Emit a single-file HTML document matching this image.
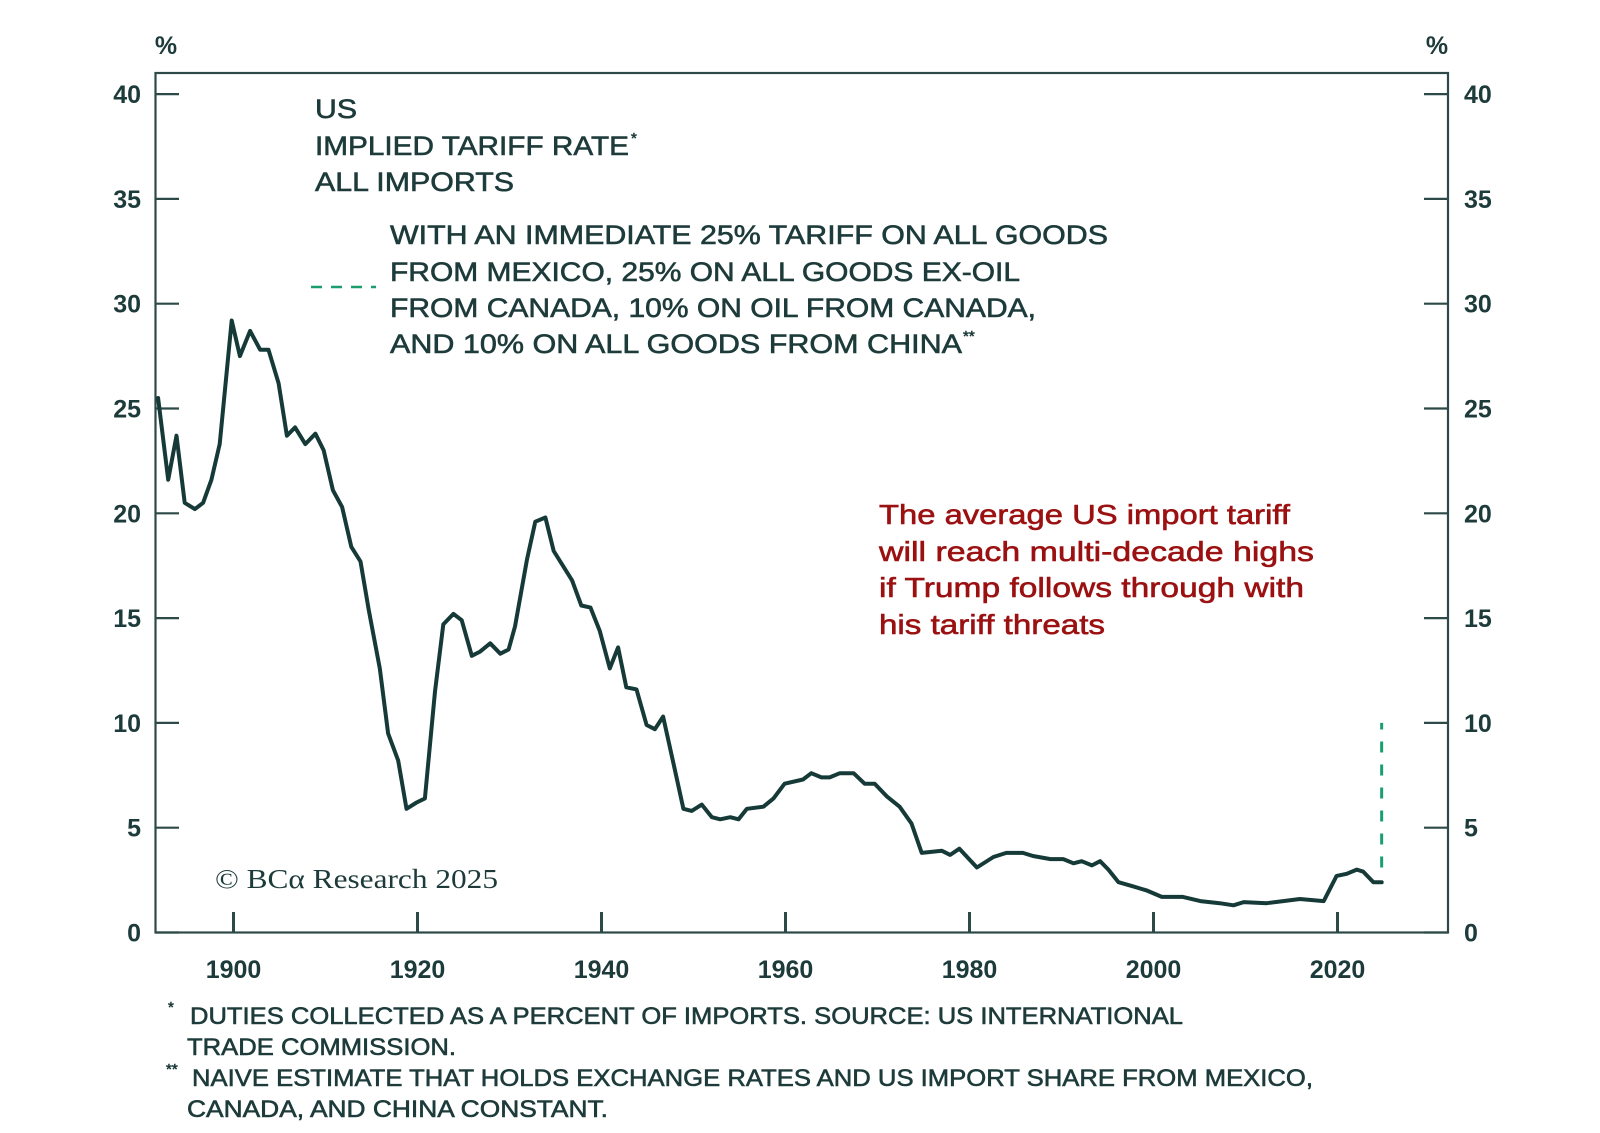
<!DOCTYPE html>
<html><head><meta charset="utf-8"><style>
html,body{margin:0;padding:0;background:#fff;}
svg{display:block;}
text{font-family:"Liberation Sans",sans-serif;fill:#1d3b3a;}
.med{stroke:#1d3b3a;stroke-width:0.6;}
.medr{stroke:#9b1111;stroke-width:0.6;}
</style></head><body>
<svg id="chart" width="1600" height="1133" viewBox="0 0 1600 1133" xmlns="http://www.w3.org/2000/svg">
<rect x="0" y="0" width="1600" height="1133" fill="#fff"/>
<rect x="155.5" y="73" width="1292.5" height="859.5" fill="none" stroke="#2d4a48" stroke-width="2.2"/>
<g id="yticks"></g>
<g id="xticks"></g>
<text x="166" y="54" font-size="25" font-weight="bold" text-anchor="middle">%</text>
<text x="1437" y="54" font-size="25" font-weight="bold" text-anchor="middle">%</text>

<g class="med">
<text x="315" y="118" font-size="27" textLength="42" lengthAdjust="spacingAndGlyphs">US</text>
<text x="315" y="155" font-size="27" textLength="314" lengthAdjust="spacingAndGlyphs">IMPLIED TARIFF RATE</text>
<text x="631" y="143" font-size="15">*</text>
<text x="315" y="191" font-size="27" textLength="199" lengthAdjust="spacingAndGlyphs">ALL IMPORTS</text>
</g>
<g>
<line x1="311" y1="287" x2="376" y2="287" stroke="#1a9e6e" stroke-width="2.5" stroke-dasharray="11,9"/>
<g class="med">
<text x="390" y="244" font-size="27" textLength="718" lengthAdjust="spacingAndGlyphs">WITH AN IMMEDIATE 25% TARIFF ON ALL GOODS</text>
<text x="390" y="281" font-size="27" textLength="630" lengthAdjust="spacingAndGlyphs">FROM MEXICO, 25% ON ALL GOODS EX-OIL</text>
<text x="390" y="317" font-size="27" textLength="646" lengthAdjust="spacingAndGlyphs">FROM CANADA, 10% ON OIL FROM CANADA,</text>
<text x="390" y="353" font-size="27" textLength="572" lengthAdjust="spacingAndGlyphs">AND 10% ON ALL GOODS FROM CHINA</text>
<text x="963" y="341" font-size="15">**</text>
</g>
</g>
<g class="medr">
<text x="879" y="524" font-size="28" style="fill:#9b1111" textLength="411" lengthAdjust="spacingAndGlyphs">The average US import tariff</text>
<text x="879" y="561" font-size="28" style="fill:#9b1111" textLength="435" lengthAdjust="spacingAndGlyphs">will reach multi-decade highs</text>
<text x="879" y="597" font-size="28" style="fill:#9b1111" textLength="425" lengthAdjust="spacingAndGlyphs">if Trump follows through with</text>
<text x="879" y="634" font-size="28" style="fill:#9b1111" textLength="226" lengthAdjust="spacingAndGlyphs">his tariff threats</text>
</g>
<text x="215" y="888" font-size="27" style="font-family:'Liberation Serif',serif" textLength="283" lengthAdjust="spacingAndGlyphs">© BCα Research 2025</text>

<g class="med">
<text x="168" y="1012" font-size="15">*</text>
<text x="190" y="1024" font-size="24" textLength="993" lengthAdjust="spacingAndGlyphs">DUTIES COLLECTED AS A PERCENT OF IMPORTS. SOURCE: US INTERNATIONAL</text>
<text x="187" y="1055" font-size="24" textLength="269" lengthAdjust="spacingAndGlyphs">TRADE COMMISSION.</text>
<text x="166" y="1074" font-size="15">**</text>
<text x="192" y="1086" font-size="24" textLength="1121" lengthAdjust="spacingAndGlyphs">NAIVE ESTIMATE THAT HOLDS EXCHANGE RATES AND US IMPORT SHARE FROM MEXICO,</text>
<text x="187" y="1117" font-size="24" textLength="421" lengthAdjust="spacingAndGlyphs">CANADA, AND CHINA CONSTANT.</text>
</g>
<g id="series"></g>
</svg>
<script>
const years = [1891.8,1892.9,1893.8,1894.7,1895.8,1896.7,1897.6,1898.5,1899.8,1900.7,1901.8,1902.9,1903.8,1904.9,1905.8,1906.7,1907.8,1908.9,1909.8,1910.8,1911.8,1912.8,1913.8,1914.7,1915.9,1916.8,1917.9,1918.8,1919.9,1920.8,1921.9,1922.8,1923.9,1924.8,1925.9,1926.8,1927.9,1929.0,1929.9,1930.6,1931.9,1932.8,1933.9,1934.8,1936.8,1937.8,1938.8,1939.8,1940.9,1941.8,1942.7,1943.8,1944.9,1945.8,1946.7,1947.8,1948.9,1949.8,1950.9,1952.0,1952.9,1954.0,1954.9,1955.8,1957.6,1958.7,1959.9,1961.9,1962.8,1963.9,1964.8,1965.9,1967.4,1968.6,1969.7,1971.0,1972.4,1973.7,1974.8,1977.0,1977.9,1978.9,1980.8,1982.6,1984.0,1985.8,1986.9,1988.8,1990.2,1991.3,1992.2,1993.3,1994.2,1995.1,1996.2,1997.8,1999.3,2000.9,2003.2,2005.1,2007.2,2008.7,2009.8,2012.3,2014.1,2015.9,2018.5,2019.9,2021.0,2022.1,2022.8,2023.9,2024.8];
const tariffRate = [25.5,21.6,23.7,20.5,20.2,20.5,21.6,23.3,29.2,27.5,28.7,27.8,27.8,26.2,23.7,24.1,23.3,23.8,23.0,21.1,20.3,18.4,17.7,15.4,12.6,9.5,8.2,5.9,6.2,6.4,11.5,14.7,15.2,14.9,13.2,13.4,13.8,13.3,13.5,14.6,17.8,19.6,19.8,18.2,16.8,15.6,15.5,14.4,12.6,13.6,11.7,11.6,9.9,9.7,10.3,8.1,5.9,5.8,6.1,5.5,5.4,5.5,5.4,5.9,6.0,6.4,7.1,7.3,7.6,7.4,7.4,7.6,7.6,7.1,7.1,6.5,6.0,5.2,3.8,3.9,3.7,4.0,3.1,3.6,3.8,3.8,3.65,3.5,3.5,3.3,3.4,3.2,3.4,3.0,2.4,2.2,2.0,1.7,1.7,1.5,1.4,1.3,1.45,1.4,1.5,1.6,1.5,2.7,2.8,3.0,2.9,2.4,2.4];
const scenarioYear = [2024.8];
const scenarioFrom = [3.1];
const scenarioTo = [10.0];
const yTickValues = [0,5,10,15,20,25,30,35,40];
const xTickValues = [1900,1920,1940,1960,1980,2000,2020];

const NS = "http://www.w3.org/2000/svg";
function xs(yr){ return 233.5 + (yr - 1900) * 9.2; }
function ys(v){ return 932.5 - v * 20.96; }
function mk(tag, attrs, parent){ const e = document.createElementNS(NS, tag); for (const k in attrs) e.setAttribute(k, attrs[k]); parent.appendChild(e); return e; }

const yg = document.getElementById('yticks');
yTickValues.forEach(v => {
  const y = ys(v);
  const t1 = mk('line', {x1:155.5, y1:y, x2:179, y2:y, stroke:'#2d4a48', 'stroke-width':2.2}, yg);
  
  
  const t2 = mk('line', {x1:1424, y1:y, x2:1448, y2:y, stroke:'#2d4a48', 'stroke-width':2.2}, yg);
  
  
  const l1 = mk('text', {x:141, y:y+9, 'font-size':25, 'font-weight':'bold', 'text-anchor':'end'}, yg);
  l1.textContent = String(v);
  
  
  const l2 = mk('text', {x:1464, y:y+9, 'font-size':25, 'font-weight':'bold', 'text-anchor':'start'}, yg);
  l2.textContent = String(v);
  
  
});

const xg = document.getElementById('xticks');
xTickValues.forEach(yr => {
  const x = xs(yr);
  const t = mk('line', {x1:x, y1:912, x2:x, y2:932.5, stroke:'#2d4a48', 'stroke-width':3}, xg);
  
  
  const l = mk('text', {x:x, y:978, 'font-size':25, 'font-weight':'bold', 'text-anchor':'middle'}, xg);
  l.textContent = String(yr);
  
  
});

const sg = document.getElementById('series');
let d = '';
years.forEach((yr, i) => { d += (i ? 'L' : 'M') + xs(yr).toFixed(1) + ',' + ys(tariffRate[i]).toFixed(1); });
const line = mk('path', {d:d, fill:'none', stroke:'#163a38', 'stroke-width':4, 'stroke-linejoin':'round', 'stroke-linecap':'round'}, sg);


scenarioYear.forEach((yr, i) => {
  const s = mk('line', {x1:xs(yr), y1:ys(scenarioFrom[i]), x2:xs(yr), y2:ys(scenarioTo[i]), stroke:'#1a9e6e', 'stroke-width':3, 'stroke-dasharray':'11,12'}, sg);
  
  
});
</script>
</body></html>
